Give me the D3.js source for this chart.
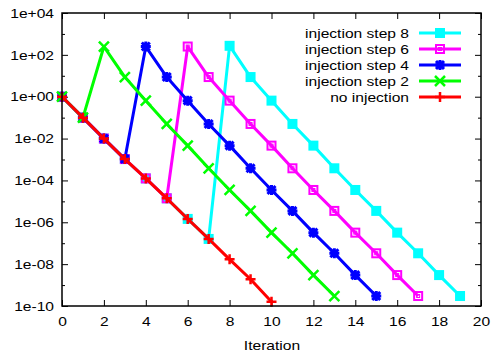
<!DOCTYPE html>
<html>
<head>
<meta charset="utf-8">
<script src="https://cdn.jsdelivr.net/npm/d3@7"></script>
<style>
  body { margin: 0; background: white; }
  text { font-family: "Liberation Sans", Arial, sans-serif; }
</style>
</head>
<body>
<div id="figure"></div>
<script>
// data
const iterNone = [0, 1, 2, 3, 4, 5, 6, 7, 8, 9, 10]
const valNone = [1, 0.1, 0.01, 1.05e-3, 1.25e-4, 1.4e-5, 1.45e-6, 1.6e-7, 1.7e-8, 1.9e-9, 1.6e-10]

const valStep2 = [1, 0.1, 250, 8.7, 0.65, 0.05, 4.6e-3, 3.8e-4, 3.5e-5, 3.5e-6, 3.2e-7, 3.3e-8, 3e-9, 3e-10]
const valStep4 = [1, 0.1, 0.01, 1.05e-3, 250, 8.7, 0.65, 0.05, 4.6e-3, 3.8e-4, 3.5e-5, 3.5e-6, 3.2e-7, 3.3e-8, 3e-9, 3e-10]
const valStep6 = [1, 0.1, 0.01, 1.05e-3, 1.25e-4, 1.4e-5, 250, 8.7, 0.65, 0.05, 4.6e-3, 3.8e-4, 3.5e-5, 3.5e-6, 3.2e-7, 3.3e-8, 3e-9, 3e-10]
const valStep8 = [1, 0.1, 0.01, 1.05e-3, 1.25e-4, 1.4e-5, 1.45e-6, 1.6e-7, 270, 8.7, 0.65, 0.05, 4.6e-3, 3.8e-4, 3.5e-5, 3.5e-6, 3.2e-7, 3.3e-8, 3e-9, 3e-10]

const xTicks = [0, 2, 4, 6, 8, 10, 12, 14, 16, 18, 20]
const yTicks = [1e4, 1e2, 1, 1e-2, 1e-4, 1e-6, 1e-8, 1e-10]
const yMinor = [1e3, 1e1, 1e-1, 1e-3, 1e-5, 1e-7, 1e-9]

const series = [
  { name: 'injection step 8', values: valStep8, color: '#00ffff', marker: 'fsquare' },
  { name: 'injection step 6', values: valStep6, color: '#ff00ff', marker: 'osquare' },
  { name: 'injection step 4', values: valStep4, color: '#0000ff', marker: 'star' },
  { name: 'injection step 2', values: valStep2, color: '#00ff00', marker: 'cross' },
  { name: 'no injection', values: valNone, color: '#ff0000', marker: 'plus' }
]

const width = 493
const height = 352
const margin = { TOP: 13, LEFT: 62, RIGHT: 12, BOTTOM: 46 }
// the reference font is a bit wider than Liberation Sans
const STRETCH = 1.2

const svg = d3.select('#figure').append('svg').attr('width', width).attr('height', height).attr('style', 'background:white')

const x = d3.scaleLinear().domain([0, 20]).range([margin.LEFT, width - margin.RIGHT])
const y = d3.scaleLog().domain([1e-10, 1e4]).range([height - margin.BOTTOM, margin.TOP])

const fmt = d => {
  const e = Math.round(Math.log10(d))
  return '1e' + (e < 0 ? '-' : '+') + String(Math.abs(e)).padStart(2, '0')
}

function addText(parent, str, tx, ty, anchor) {
  return parent.append('g').attr('transform', `translate(${tx},${ty}) scale(${STRETCH},1)`)
    .append('text').text(str).attr('text-anchor', anchor).attr('dy', '0.35em').attr('font-size', 13).attr('fill', '#000')
}

/**
 * axes
 */
const styleAxis = g => {
  g.select('.domain').remove()
  g.selectAll('.tick line').attr('stroke', '#000').attr('stroke-width', 1)
  g.selectAll('text').attr('font-size', 13).attr('fill', '#000').attr('transform', `scale(${STRETCH},1)`)
}

svg.append('g').attr('transform', `translate(0,${height - margin.BOTTOM})`)
  .call(d3.axisBottom(x).tickValues(xTicks).tickSize(-6).tickPadding(10.5).tickFormat(d3.format('d')))
  .call(styleAxis)
svg.append('g').attr('transform', `translate(0,${margin.TOP})`)
  .call(d3.axisTop(x).tickValues(xTicks).tickSize(-6).tickFormat(''))
  .call(styleAxis)

svg.append('g').attr('transform', `translate(${margin.LEFT},0)`)
  .call(d3.axisLeft(y).tickValues(yTicks).tickSize(-6).tickPadding(8 / STRETCH).tickFormat(fmt))
  .call(styleAxis)
svg.append('g').attr('transform', `translate(${margin.LEFT},0)`)
  .call(d3.axisLeft(y).tickValues(yMinor).tickSize(-3).tickFormat(''))
  .call(styleAxis)
svg.append('g').attr('transform', `translate(${width - margin.RIGHT},0)`)
  .call(d3.axisRight(y).tickValues(yTicks).tickSize(-6).tickFormat(''))
  .call(styleAxis)
svg.append('g').attr('transform', `translate(${width - margin.RIGHT},0)`)
  .call(d3.axisRight(y).tickValues(yMinor).tickSize(-3).tickFormat(''))
  .call(styleAxis)

addText(svg, 'Iteration', 272, 345.5, 'middle')

/**
 * markers
 */
function drawMarker(g, type, cx, cy, color) {
  const s = 5
  if (type === 'fsquare') {
    g.append('rect').attr('x', cx - s).attr('y', cy - s).attr('width', 2 * s).attr('height', 2 * s).attr('fill', color)
  } else if (type === 'osquare') {
    g.append('rect').attr('x', cx - s + 1).attr('y', cy - s + 1).attr('width', 2 * s - 2).attr('height', 2 * s - 2)
      .attr('fill', 'none').attr('stroke', color).attr('stroke-width', 2)
    g.append('rect').attr('x', cx - 1.5).attr('y', cy - 1.5).attr('width', 3).attr('height', 3)
      .attr('fill', 'none').attr('stroke', color).attr('stroke-width', 1)
  } else if (type === 'star') {
    const p = `M${cx - s},${cy}H${cx + s}M${cx},${cy - s}V${cy + s}M${cx - 4},${cy - 4}L${cx + 4},${cy + 4}M${cx - 4},${cy + 4}L${cx + 4},${cy - 4}`
    g.append('path').attr('d', p).attr('stroke', color).attr('stroke-width', 3).attr('fill', 'none')
  } else if (type === 'cross') {
    const p = `M${cx - s},${cy - s}L${cx + s},${cy + s}M${cx - s},${cy + s}L${cx + s},${cy - s}`
    g.append('path').attr('d', p).attr('stroke', color).attr('stroke-width', 2.5).attr('fill', 'none')
  } else {
    const p = `M${cx - s},${cy}H${cx + s}M${cx},${cy - s}V${cy + s}`
    g.append('path').attr('d', p).attr('stroke', color).attr('stroke-width', 2.5).attr('fill', 'none')
  }
}

const line = d3.line().x((d, i) => x(i)).y(d => y(d))

series.forEach(s => {
  const g = svg.append('g')
  g.append('path').datum(s.values).attr('d', line).attr('fill', 'none')
    .attr('stroke', s.color).attr('stroke-width', 3).attr('stroke-linejoin', 'round')
  s.values.forEach((v, i) => drawMarker(g, s.marker, x(i), y(v), s.color))
})

/**
 * legend
 */
const legend = svg.append('g')
series.forEach((s, i) => {
  const ly = 33 + i * 16
  addText(legend, s.name, 409, ly, 'end')
  legend.append('line').attr('x1', 419).attr('x2', 461).attr('y1', ly).attr('y2', ly)
    .attr('stroke', s.color).attr('stroke-width', 3)
  drawMarker(legend, s.marker, 440, ly, s.color)
})

// frame
svg.append('rect').attr('x', margin.LEFT).attr('y', margin.TOP)
  .attr('width', width - margin.LEFT - margin.RIGHT).attr('height', height - margin.TOP - margin.BOTTOM)
  .attr('fill', 'none').attr('stroke', '#000').attr('stroke-width', 1.5)
</script>
</body>
</html>
